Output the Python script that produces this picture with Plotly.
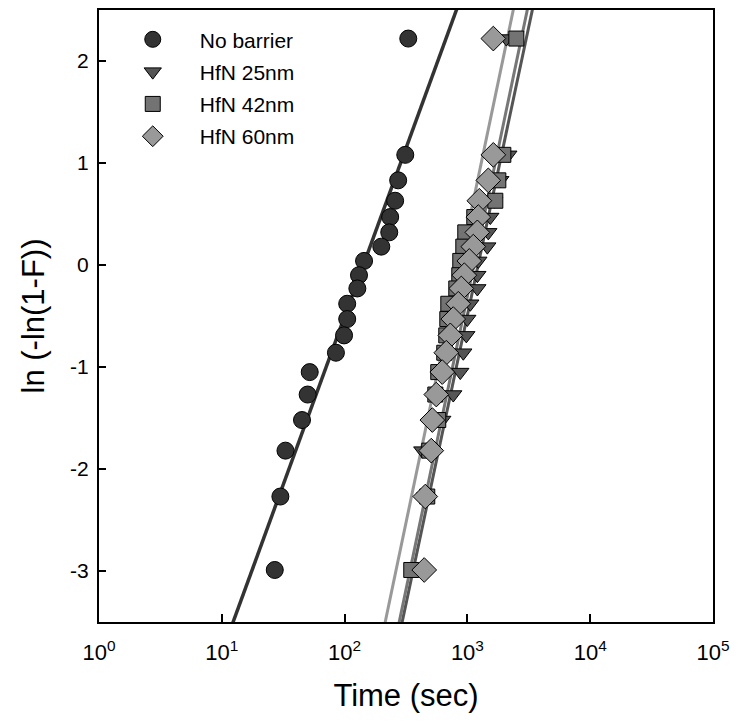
import numpy as np
import plotly.graph_objects as go

# Weibull plotting positions ln(-ln(1-F)) shared by all series
lnln = [2.22, 1.08, 0.83, 0.63, 0.47, 0.32, 0.18, 0.04, -0.10, -0.23,
        -0.38, -0.53, -0.69, -0.86, -1.05, -1.27, -1.52, -1.82, -2.27, -2.99]

series_names = ["No barrier", "HfN 25nm", "HfN 42nm", "HfN 60nm"]

t_no_barrier = [330, 312, 273, 258, 235, 231, 199, 144, 131, 127,
                105, 105, 99, 85, 52, 50, 45, 33, 30, 27]
t_hfn25 = [2075, 2155, 1854, 1657, 1537, 1480, 1453, 1227, 1205, 1205,
           1056, 998, 980, 926, 875, 767, 624, 429, 454, 376]
t_hfn42 = [2504, 1962, 1786, 1688, 1138, 961, 926, 875, 859, 812,
           699, 686, 673, 648, 579, 548, 579, 489, 471, 349]
t_hfn60 = [1626, 1626, 1480, 1250, 1227, 1205, 1117, 1036, 944, 892,
           843, 767, 726, 673, 624, 558, 518, 508, 454, 445]

# Weibull fit parameters (shape beta, scale eta in sec)
fit_beta = [1.433, 2.458, 2.499, 2.499]
fit_eta = [142.2, 1222, 1130, 869]

tick_vals = [1, 10, 100, 1000, 10000, 100000]
tick_text = ["10<sup>0</sup>", "10<sup>1</sup>", "10<sup>2</sup>",
             "10<sup>3</sup>", "10<sup>4</sup>", "10<sup>5</sup>"]
y_ticks = [-3, -2, -1, 0, 1, 2]
y_tick_text = ["-3", "-2", "-1", "0", "1", "2"]

marker_symbols = ["circle", "triangle-down", "square", "diamond"]
marker_colors = ["#333333", "#555555", "#737373", "#999999"]
marker_sizes = [17, 15, 15, 19]
line_colors = ["#333333", "#555555", "#777777", "#999999"]
line_widths = [3.5, 3, 3, 3]

all_t = [t_no_barrier, t_hfn25, t_hfn42, t_hfn60]

fig = go.Figure()

v_line = np.linspace(-4, 3, 50)
for i in range(4):
    t_line = fit_eta[i] * np.exp(v_line / fit_beta[i])
    fig.add_trace(go.Scatter(
        x=t_line, y=v_line, mode="lines",
        line=dict(color=line_colors[i], width=line_widths[i]),
        showlegend=False, hoverinfo="skip"))

for i in range(4):
    fig.add_trace(go.Scatter(
        x=all_t[i], y=lnln, mode="markers", name=series_names[i],
        legendgroup=series_names[i],
        marker=dict(symbol=marker_symbols[i], color=marker_colors[i],
                    size=marker_sizes[i], line=dict(color="black", width=1))))

fig.update_layout(
    width=738, height=724,
    margin=dict(l=99, r=25, t=8, b=102),
    paper_bgcolor="white", plot_bgcolor="white",
    font=dict(family="Arial, Liberation Sans, sans-serif", color="black", size=20),
    showlegend=True,
    legend=dict(x=0.011, y=0.985, xanchor="left", yanchor="top",
                bgcolor="rgba(0,0,0,0)", font=dict(size=21),
                itemwidth=84, tracegroupgap=2, itemsizing="trace"),
)

fig.update_xaxes(
    type="log", range=[0, 5], tickvals=tick_vals, ticktext=tick_text,
    ticks="inside", ticklen=8, tickwidth=2, tickcolor="black",
    showline=True, linewidth=2, linecolor="black", mirror=True,
    showgrid=False, zeroline=False,
    tickfont=dict(size=22), ticklabelstandoff=10,
    title=dict(text="Time (sec)", font=dict(size=31), standoff=20))

fig.update_yaxes(
    range=[-3.5, 2.5], tickvals=y_ticks, ticktext=y_tick_text,
    ticks="inside", ticklen=7, tickwidth=2, tickcolor="black",
    showline=True, linewidth=2, linecolor="black", mirror=True,
    showgrid=False, zeroline=False,
    tickfont=dict(size=21), ticklabelstandoff=4,
    title=dict(text="ln (-ln(1-F))", font=dict(size=31), standoff=16))

fig.write_html("out.html")
